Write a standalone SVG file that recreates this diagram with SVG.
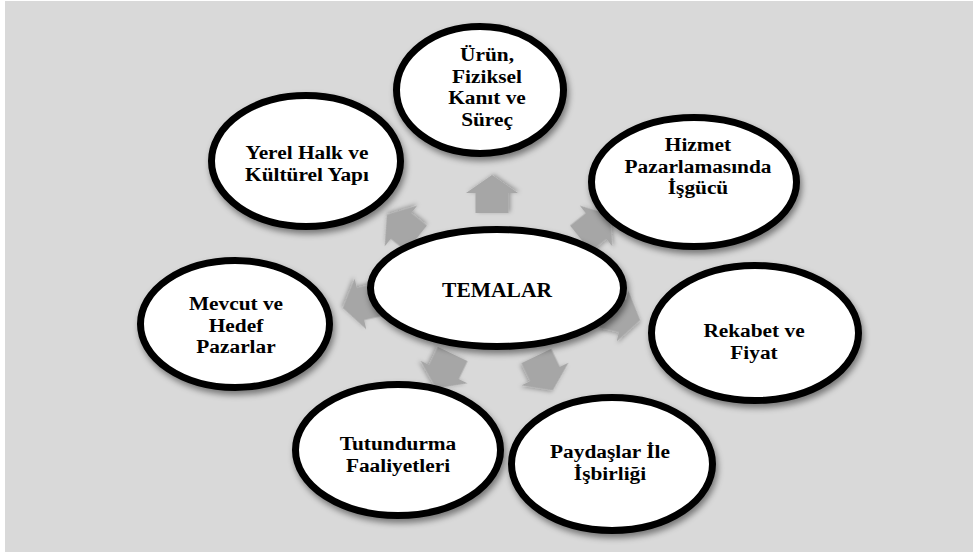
<svg xmlns="http://www.w3.org/2000/svg" width="973" height="552" viewBox="0 0 973 552">
  <defs>
    <filter id="sh" x="-20%" y="-20%" width="140%" height="150%">
      <feDropShadow dx="2" dy="4" stdDeviation="3" flood-color="#000" flood-opacity="0.45"/>
    </filter>
    <filter id="ash" x="-30%" y="-30%" width="160%" height="160%">
      <feDropShadow dx="1" dy="2" stdDeviation="2" flood-color="#000" flood-opacity="0.3"/>
    </filter>
    <polygon id="arr" points="-20,-16.5 0,-16.5 0,-26 18,0 0,26 0,16.5 -20,16.5"/>
  </defs>
  <style>
    .bg { fill: #d9d9d9; }
    .node ellipse { fill: #ffffff; stroke: #000000; stroke-width: 7; filter: url(#sh); }
    .node text { font-family: 'Liberation Serif', 'Times New Roman', serif; font-weight: bold; font-size: 19.4px; fill: #000000; text-anchor: middle; }
    .arrows use { fill: #a6a6a6; filter: url(#ash); }
  </style>
  <rect class="bg" x="5" y="1" width="968" height="551"/>

  <g id="connectors" class="arrows">
    <use href="#arr" transform="translate(492,193) rotate(-90)"/>
    <use href="#arr" transform="translate(596,226) rotate(-38.6)"/>
    <use href="#arr" transform="translate(622.5,316) rotate(12.9)"/>
    <use href="#arr" transform="translate(545,374) rotate(64.3)"/>
    <use href="#arr" transform="translate(444,372) rotate(115.7)"/>
    <use href="#arr" transform="translate(360.5,304) rotate(167.1)"/>
    <use href="#arr" transform="translate(401,226) rotate(218.6)"/>
  </g>

  <g id="n-urun" class="node">
    <ellipse cx="480" cy="90" rx="83.5" ry="63.5"/>
    <g transform="translate(487,0) scale(1.1,1)">
      <text x="0" y="61.5">Ürün,</text>
      <text x="0" y="83">Fiziksel</text>
      <text x="0" y="104.5">Kanıt ve</text>
      <text x="0" y="126">Süreç</text>
    </g>
  </g>
  <g id="n-hizmet" class="node">
    <ellipse cx="694" cy="182" rx="102.5" ry="64.5"/>
    <g transform="translate(698,0) scale(1.1,1)">
      <text x="0" y="151.5">Hizmet</text>
      <text x="0" y="173">Pazarlamasında</text>
      <text x="0" y="194.5">İşgücü</text>
    </g>
  </g>
  <g id="n-rekabet" class="node">
    <ellipse cx="755" cy="333" rx="103.5" ry="67.5"/>
    <g transform="translate(754,0) scale(1.1,1)">
      <text x="0" y="337">Rekabet ve</text>
      <text x="0" y="359">Fiyat</text>
    </g>
  </g>
  <g id="n-paydaslar" class="node">
    <ellipse cx="612" cy="464" rx="100.5" ry="66.5"/>
    <g transform="translate(610,0) scale(1.1,1)">
      <text x="0" y="458">Paydaşlar İle</text>
      <text x="0" y="480">İşbirliği</text>
    </g>
  </g>
  <g id="n-tutundurma" class="node">
    <ellipse cx="398" cy="450" rx="102.5" ry="65.5"/>
    <g transform="translate(398,0) scale(1.1,1)">
      <text x="0" y="450">Tutundurma</text>
      <text x="0" y="472">Faaliyetleri</text>
    </g>
  </g>
  <g id="n-mevcut" class="node">
    <ellipse cx="235" cy="324" rx="94.5" ry="63.5"/>
    <g transform="translate(236,0) scale(1.1,1)">
      <text x="0" y="310.5">Mevcut ve</text>
      <text x="0" y="332">Hedef</text>
      <text x="0" y="353.5">Pazarlar</text>
    </g>
  </g>
  <g id="n-yerel" class="node">
    <ellipse cx="306" cy="161" rx="94.5" ry="65.5"/>
    <g transform="translate(307,0) scale(1.1,1)">
      <text x="0" y="159.5">Yerel Halk ve</text>
      <text x="0" y="181">Kültürel Yapı</text>
    </g>
  </g>
  <g id="n-temalar" class="node">
    <ellipse cx="497" cy="288" rx="126.5" ry="58.5"/>
    <text x="497" y="297" style="font-size:21.5px">TEMALAR</text>
  </g>
</svg>
